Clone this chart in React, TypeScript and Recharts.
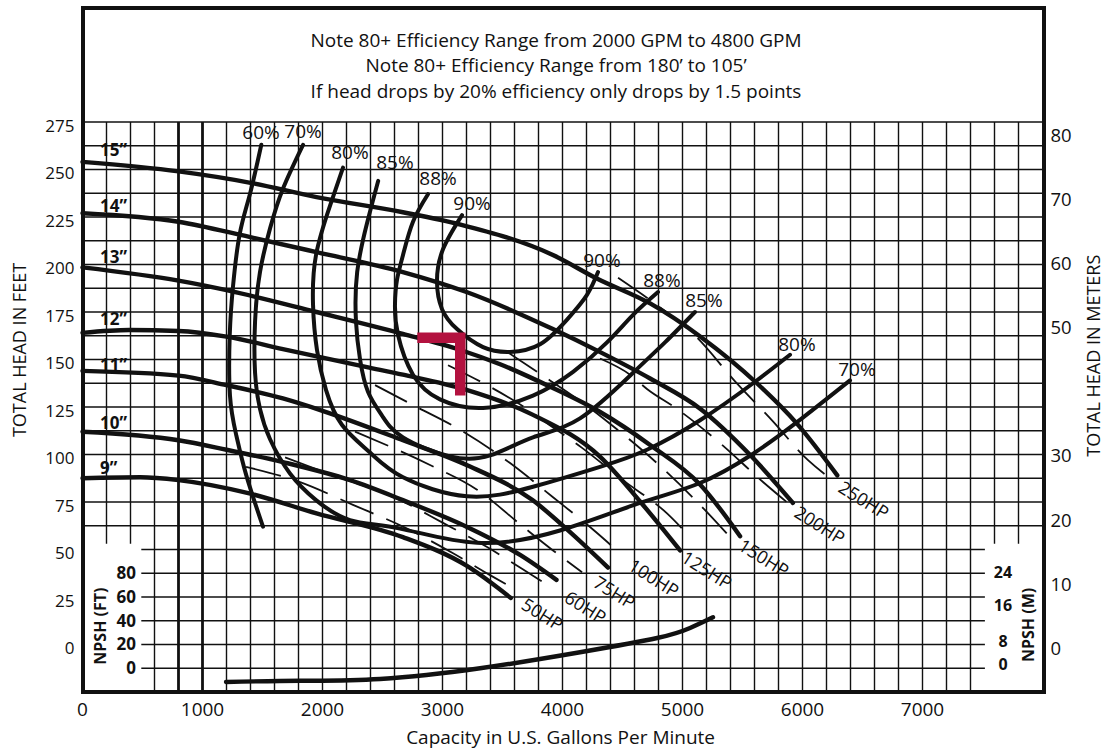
import { ComposedChart, Line, Scatter, XAxis, YAxis, ReferenceLine } from "recharts"

const FONT = "'Open Sans', 'DejaVu Sans', sans-serif"
const INK = "#111"

// axis ticks
const gpmTicks = [0, 1000, 2000, 3000, 4000, 5000, 6000, 7000]
const headTicks = [0, 25, 50, 75, 100, 125, 150, 175, 200, 225, 250, 275]
const meterTicks = [0, 10, 20, 30, 50, 60, 70, 80]
const npshFtTicks = [80, 60, 40, 20, 0]
const npshMTicks = ["24", "16", "8", "0"]
const npshMPos = [81, 53, 22.5, 3]

const notes = [
    "Note 80+ Efficiency Range from 2000 GPM to 4800 GPM",
    "Note 80+ Efficiency Range from 180’ to 105’",
    "If head drops by 20% efficiency only drops by 1.5 points",
]

// impeller curves [gpm, ft]
const imp15 = [[0, 254], [800, 249], [1400, 243], [1950, 235.5], [2670, 227.5], [3150, 221], [3920, 205], [4290, 192.5], [4730, 179.5], [5150, 162], [5620, 137.5], [5950, 116.5], [6290, 89]]
const imp14 = [[0, 227], [800, 222.5], [1390, 214.5], [1950, 206.5], [2670, 196], [3200, 185.5], [3920, 166], [4310, 154], [4730, 140], [5150, 124], [5560, 100], [5920, 74.5]]
const imp13 = [[0, 198.5], [800, 191.5], [1200, 186.5], [1950, 175], [2670, 163.5], [3150, 155], [3480, 147.5], [3920, 135], [4310, 122.5], [4730, 105], [5150, 84], [5480, 57]]
const imp12 = [[0, 164], [390, 165.5], [800, 165], [1200, 162], [1670, 155.5], [2370, 146], [2670, 142], [3200, 134], [3750, 121], [4310, 99], [4650, 75], [4980, 49.5]]
const imp11 = [[0, 144], [800, 141.5], [1200, 136.5], [1670, 129.5], [2000, 123], [2670, 107.5], [3200, 94.5], [3750, 76], [4040, 60.5], [4380, 40.5]]
const imp10 = [[0, 112], [800, 107.5], [1200, 102.5], [1670, 96], [2230, 86.5], [2670, 76], [3200, 62], [3650, 47], [3950, 34]]
const imp9 = [[0, 87.5], [480, 88], [800, 86.5], [1390, 79.5], [1950, 69], [2670, 56.5], [3200, 41.5], [3570, 24.5]]

// efficiency curves [gpm, ft]
const eff60 = [[1490, 263], [1395, 237], [1310, 216], [1255, 189], [1227, 163], [1229, 131], [1282, 110], [1365, 89], [1504, 62]]
const eff70 = [[1838, 263], [1671, 240], [1563, 219], [1479, 196], [1438, 170], [1438, 143], [1479, 124], [1563, 108], [1729, 90], [1946, 76], [2229, 65.5], [2646, 61], [3288, 53.5], [3979, 60], [4646, 74.5], [5146, 85], [5579, 100], [5954, 117], [6396, 139]]
const eff80 = [[2171, 251], [2063, 231], [1946, 205], [1921, 179], [1954, 155], [2029, 134], [2163, 115.5], [2396, 101], [2671, 88], [3204, 78], [3754, 83], [4313, 93.5], [4704, 102.5], [5146, 118], [5588, 137.5], [5896, 152.5]]
const eff85 = [[2464, 244], [2372, 222], [2289, 196], [2279, 170], [2313, 150], [2379, 133], [2496, 120.5], [2671, 109], [3063, 99], [3396, 99.5], [3754, 109], [4146, 119], [4588, 143], [4854, 159], [5104, 175]]
const eff88 = [[2879, 237], [2754, 222.5], [2671, 205], [2621, 192], [2604, 179], [2629, 163], [2754, 142], [2979, 129], [3338, 124.5], [3754, 131], [4088, 143.5], [4371, 159], [4588, 173.5], [4796, 185.5]]
const eff90 = [[3163, 226], [3004, 208], [2954, 191], [2996, 176.5], [3121, 166], [3338, 156.5], [3563, 154], [3813, 158], [4038, 171], [4204, 184], [4296, 196]]

// horsepower lines [gpm, ft]
const hp50 = [[1363, 93.5], [1813, 85.5], [2254, 73.5], [2688, 61.5], [3088, 48], [3396, 36.5], [3621, 28.5]]
const hp60 = [[1688, 98.5], [2004, 91], [2646, 76], [3004, 64], [3379, 51], [3646, 40.5], [3896, 30.5]]
const hp75 = [[2271, 112], [2896, 94.5], [3288, 81.5], [3671, 62], [3921, 49.5], [4163, 38]]
const hp100 = [[2438, 136.5], [2754, 126], [3146, 113], [3563, 95.5], [3921, 77.5], [4254, 60.5], [4479, 48]]
const hp125 = [[3046, 147], [3371, 136.5], [3704, 124], [3871, 116.5], [4163, 103.5], [4504, 86.5], [4871, 69], [5063, 56.5]]
const hp150 = [[3538, 154], [3788, 143.5], [3896, 139], [4163, 127.5], [4479, 112], [4813, 94], [5146, 73.5], [5404, 56]]
const hp200 = [[4313, 150.5], [4563, 142], [4704, 134.5], [4954, 124], [5313, 106], [5671, 85.5], [5896, 73.5]]
const hp250 = [[4463, 193], [4746, 180.5], [5121, 161.5], [5438, 138.5], [5746, 118], [6046, 97], [6263, 86]]

// NPSH required, feet on the NPSH scale
const npshReq = [[1196, -12], [1813, -11], [2479, -9.5], [3313, -0.5], [4146, 13], [4788, 25], [5063, 33.5], [5254, 42.5]]

// red duty marker
const dutyMark = [[2790, 161.5], [3148, 161.5], [3148, 131]]

const impLabels = [
    { label: "15”", gpm: 146, ft: 260.3 },
    { label: "14”", gpm: 146, ft: 231.3 },
    { label: "13”", gpm: 146, ft: 204 },
    { label: "12”", gpm: 146, ft: 171.8 },
    { label: "11”", gpm: 146, ft: 147.6 },
    { label: "10”", gpm: 146, ft: 117.1 },
    { label: "9”", gpm: 146, ft: 93.4 },
]

const effLabels = [
    { label: "60%", gpm: 1488, ft: 269.7 },
    { label: "70%", gpm: 1838, ft: 270.3 },
    { label: "80%", gpm: 2229, ft: 259.2 },
    { label: "85%", gpm: 2604, ft: 253.9 },
    { label: "88%", gpm: 2963, ft: 245.5 },
    { label: "90%", gpm: 3246, ft: 232.4 },
    { label: "90%", gpm: 4329, ft: 202.4 },
    { label: "88%", gpm: 4829, ft: 191.8 },
    { label: "85%", gpm: 5179, ft: 181.3 },
    { label: "80%", gpm: 5954, ft: 158.2 },
    { label: "70%", gpm: 6454, ft: 145 },
]

const hpLabels = [
    { label: "50HP", gpm: 3646, ft: 19.2 },
    { label: "60HP", gpm: 4004, ft: 22.9 },
    { label: "75HP", gpm: 4246, ft: 30.8 },
    { label: "100HP", gpm: 4537, ft: 39.7 },
    { label: "125HP", gpm: 4979, ft: 43.9 },
    { label: "150HP", gpm: 5454, ft: 50.3 },
    { label: "200HP", gpm: 5921, ft: 67.6 },
    { label: "250HP", gpm: 6287, ft: 80.8 },
]

const pts = (arr: number[][], key = "ft") => arr.map(([gpm, v]) => ({ gpm, [key]: v }))

const npshFtLabels = npshFtTicks.map((v) => ({ label: String(v), gpm: 446, npsh: v }))
const npshMLabels = npshMTicks.map((t, i) => ({ label: t, gpm: 7671, npsh: npshMPos[i] }))
const npshTitles = [
    { label: "NPSH (FT)", gpm: 146, npsh: 35 },
    { label: "NPSH (M)", gpm: 7879, npsh: 36 },
]

// grid: every 200 gpm, every 12.5 ft; NPSH boxes cut the lines in the corners
const gridGpm = Array.from({ length: 39 }, (_, i) => (i + 1) * 200)
const gridFt = Array.from({ length: 24 }, (_, i) => -12.5 + i * 12.5)
const boldGpm = [800, 1000]
const boxLeft = 490
const boxRight = 7520
const boxTop = 53

const textShape =
    (o: { size: number; weight?: number; anchor: string; baseline?: string; angle?: number }) =>
    (props: any) => {
        const { cx, cy, payload } = props
        if (cx == null || cy == null) return <g />
        return (
            <text
                x={cx}
                y={cy}
                fontSize={o.size}
                fontWeight={o.weight || 400}
                fontFamily={FONT}
                fill={INK}
                textAnchor={o.anchor}
                dominantBaseline={o.baseline || "central"}
                transform={o.angle ? `rotate(${o.angle} ${cx} ${cy})` : undefined}
            >
                {payload.label}
            </text>
        )
    }

const npshTitleShape = (props: any) => {
    const { cx, cy, payload } = props
    if (cx == null) return <g />
    return (
        <text
            x={cx}
            y={cy}
            fontSize={16}
            fontWeight={700}
            fontFamily={FONT}
            fill={INK}
            textAnchor="middle"
            dominantBaseline="central"
            transform={`rotate(-90 ${cx} ${cy})`}
        >
            {payload.label}
        </text>
    )
}

// head tick labels sit a little under their grid line
const HeadTick = (p: any) => (
    <text x={p.x} y={p.y + 3} textAnchor="end" dominantBaseline="central" fontSize={17} fontFamily={FONT} fill={INK}>
        {p.payload.value}
    </text>
)

const curve = (data: number[][], key: string, width: number, type: any, extra: any = {}) => (
    <Line
        key={key}
        data={pts(data)}
        dataKey="ft"
        type={type}
        stroke={INK}
        strokeWidth={width}
        strokeLinecap="round"
        dot={false}
        activeDot={false}
        isAnimationActive={false}
        {...extra}
    />
)

export default function App() {
    const tickStyle = { fill: INK, fontFamily: FONT }
    return (
        <div style={{ position: "absolute", left: 0, top: 0, width: 1107, height: 752, background: "#fff" }}>
            <ComposedChart width={1107} height={752} margin={{ top: 122, right: 0, bottom: 0, left: 0 }}>
                <XAxis
                    dataKey="gpm"
                    type="number"
                    domain={[0, 8000]}
                    ticks={gpmTicks}
                    height={60}
                    tickLine={false}
                    axisLine={false}
                    tickMargin={5}
                    tick={{ ...tickStyle, fontSize: 19 }}
                    label={(p: any) => (
                        <text
                            x={p.viewBox.x + p.viewBox.width * 0.498}
                            y={p.viewBox.y + 45}
                            fontSize={19}
                            fontFamily={FONT}
                            fill={INK}
                            textAnchor="middle"
                            dominantBaseline="central"
                        >
                            Capacity in U.S. Gallons Per Minute
                        </text>
                    )}
                />
                <YAxis
                    type="number"
                    domain={[-25, 275]}
                    ticks={headTicks}
                    width={82.5}
                    tickLine={false}
                    axisLine={false}
                    tick={<HeadTick />}
                    label={(p: any) => {
                        const x = p.viewBox.x + 19
                        const y = p.viewBox.y + p.viewBox.height * 0.4
                        return (
                            <text x={x} y={y} fontSize={18} fontFamily={FONT} fill={INK} textAnchor="middle" dominantBaseline="central" transform={`rotate(-90 ${x} ${y})`}>
                                TOTAL HEAD IN FEET
                            </text>
                        )
                    }}
                />
                <YAxis
                    yAxisId="m"
                    orientation="right"
                    type="number"
                    domain={[-6.81, 82.02]}
                    ticks={meterTicks}
                    width={64.5}
                    tickLine={false}
                    axisLine={false}
                    tick={{ ...tickStyle, fontSize: 18.5 }}
                    label={(p: any) => {
                        const x = p.viewBox.x + p.viewBox.width - 14
                        const y = p.viewBox.y + p.viewBox.height * 0.41
                        return (
                            <text x={x} y={y} fontSize={18} fontFamily={FONT} fill={INK} textAnchor="middle" dominantBaseline="central" transform={`rotate(-90 ${x} ${y})`}>
                                TOTAL HEAD IN METERS
                            </text>
                        )
                    }}
                />
                <YAxis yAxisId="npsh" hide type="number" domain={[-20.46, 459.5]} />

                {gridFt.map((f) =>
                    f < boxTop ? (
                        <ReferenceLine key={"h" + f} segment={[{ x: boxLeft, y: f }, { x: boxRight, y: f }]} stroke={INK} strokeWidth={1.4} />
                    ) : (
                        <ReferenceLine key={"h" + f} y={f} stroke={INK} strokeWidth={1.4} />
                    )
                )}
                {gridGpm.map((g) =>
                    g < boxLeft || g > boxRight ? (
                        <ReferenceLine key={"v" + g} segment={[{ x: g, y: boxTop }, { x: g, y: 275 }]} stroke={INK} strokeWidth={1.4} />
                    ) : (
                        <ReferenceLine key={"v" + g} x={g} stroke={INK} strokeWidth={boldGpm.includes(g) ? 2.8 : 1.4} />
                    )
                )}

                {/* keeps the metre axis bound to a series so its ticks are drawn */}
                <Line
                    yAxisId="m"
                    data={[{ gpm: 0, m: 0 }]}
                    dataKey="m"
                    stroke="none"
                    dot={false}
                    activeDot={false}
                    isAnimationActive={false}
                />

                {[hp50, hp60, hp75, hp100, hp125, hp150, hp200, hp250].map((d, i) =>
                    curve(d, "hp" + i, 1.8, "monotone", { strokeDasharray: "36 14", strokeLinecap: "butt" })
                )}

                {[imp15, imp14, imp13, imp12, imp11, imp10, imp9].map((d, i) => curve(d, "imp" + i, 4.4, "monotone"))}
                {[eff60, eff70, eff80, eff85, eff88, eff90].map((d, i) => curve(d, "eff" + i, 4, "natural"))}

                <Line
                    data={pts(npshReq, "npsh")}
                    dataKey="npsh"
                    yAxisId="npsh"
                    type="natural"
                    stroke={INK}
                    strokeWidth={4.4}
                    strokeLinecap="round"
                    dot={false}
                    activeDot={false}
                    isAnimationActive={false}
                />

                <Line
                    data={pts(dutyMark)}
                    dataKey="ft"
                    type="linear"
                    stroke="#b3123f"
                    strokeWidth={10.5}
                    strokeLinecap="butt"
                    strokeLinejoin="miter"
                    dot={false}
                    activeDot={false}
                    isAnimationActive={false}
                />

                <Scatter data={impLabels} dataKey="ft" isAnimationActive={false} shape={textShape({ size: 17, weight: 700, anchor: "start" })} />
                <Scatter data={effLabels} dataKey="ft" isAnimationActive={false} shape={textShape({ size: 19, anchor: "middle" })} />
                <Scatter data={hpLabels} dataKey="ft" isAnimationActive={false} shape={textShape({ size: 18, anchor: "start", baseline: "alphabetic", angle: 32 })} />
                <Scatter data={npshFtLabels} dataKey="npsh" yAxisId="npsh" isAnimationActive={false} shape={textShape({ size: 17, weight: 700, anchor: "end" })} />
                <Scatter data={npshMLabels} dataKey="npsh" yAxisId="npsh" isAnimationActive={false} shape={textShape({ size: 16, weight: 700, anchor: "middle" })} />
                <Scatter data={npshTitles} dataKey="npsh" yAxisId="npsh" isAnimationActive={false} shape={npshTitleShape} />
            </ComposedChart>

            {/* outer frame and note block */}
            <div
                style={{
                    position: "absolute",
                    left: 81,
                    top: 6,
                    width: 965,
                    height: 688,
                    border: "4px solid #111",
                    boxSizing: "border-box",
                    pointerEvents: "none",
                }}
            />
            <div
                style={{
                    position: "absolute",
                    left: 156,
                    top: 28,
                    width: 800,
                    textAlign: "center",
                    fontFamily: FONT,
                    fontSize: 19,
                    lineHeight: "25.3px",
                    color: INK,
                }}
            >
                {notes.map((n) => (
                    <div key={n}>{n}</div>
                ))}
            </div>
        </div>
    )
}
